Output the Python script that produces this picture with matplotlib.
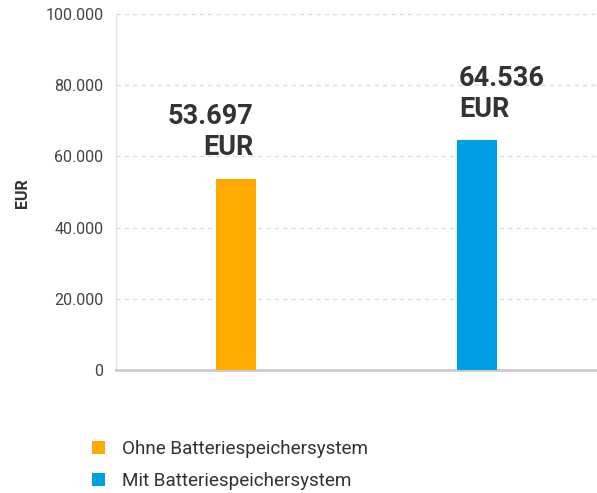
import matplotlib
matplotlib.use("Agg")
import matplotlib.pyplot as plt
from matplotlib.ticker import FuncFormatter
from matplotlib.patches import Patch

categories = ["Ohne Batteriespeichersystem", "Mit Batteriespeichersystem"]
values = [53697, 64536]
value_labels = ["53.697\nEUR", "64.536\nEUR"]
colors = ["#FFAA00", "#009FE3"]
yticks = [0, 20000, 40000, 60000, 80000, 100000]

plt.rcParams['font.family'] = ['Roboto', 'DejaVu Sans']

fig = plt.figure(figsize=(5.97, 4.93), dpi=100)
ax = fig.add_axes([116/597, (493-370)/493, 1 - 116/597, (370-14)/493])

x = list(range(len(categories)))
bars = ax.bar(x, values, width=0.166, color=colors, zorder=3)

ax.set_xlim(-0.5, 1.5)
ax.set_ylim(0, 100000)
ax.set_yticks(yticks)
ax.yaxis.set_major_formatter(FuncFormatter(lambda v, p: "0" if v == 0 else f"{int(v):,}".replace(",", ".")))
ax.set_xticks([])
ax.tick_params(axis='y', length=0, pad=9, labelsize=11.5, labelcolor="#444444")

ax.grid(axis='y', color="#dddddd", linestyle=(0, (3, 3)), linewidth=1, zorder=0)
for s in ["top", "right"]:
    ax.spines[s].set_visible(False)
ax.spines["left"].set_color("#e6e6e6")
ax.spines["left"].set_linewidth(1)
ax.spines["bottom"].set_color("#cccccc")
ax.spines["bottom"].set_linewidth(2)

fig.text(23/597, 1 - 193/493, "EUR", rotation=90, ha="center", va="center",
         fontsize=11.5, fontweight="bold", color="#333333")

# value labels
b0, b1 = bars[0], bars[1]
ax.annotate(value_labels[0], xy=(b0.get_x() + b0.get_width(), values[0]), xytext=(-2, 12.5),
            textcoords="offset points", ha="right", va="bottom", fontsize=19.5,
            fontweight="bold", color="#333333", linespacing=1.2, multialignment="right")
ax.annotate(value_labels[1], xy=(b1.get_x(), values[1]), xytext=(1.5, 12.5),
            textcoords="offset points", ha="left", va="bottom", fontsize=19.5,
            fontweight="bold", color="#333333", linespacing=1.2, multialignment="left")

handles = [Patch(facecolor=c, edgecolor="none") for c in colors]
leg = fig.legend(handles, categories, loc="upper left", bbox_to_anchor=(75/597, 1 - 423/493),
                 frameon=False, fontsize=13.6, handlelength=0.68, handleheight=0.68,
                 handletextpad=0.92, labelspacing=0.75, labelcolor="#333333")

fig.savefig("out.png", dpi=100)
